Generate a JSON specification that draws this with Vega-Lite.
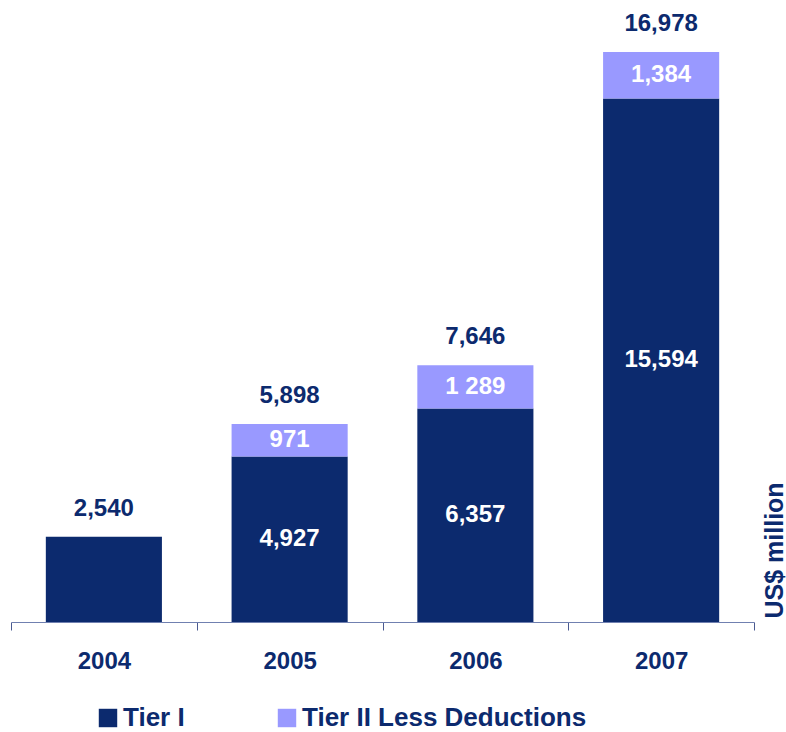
{
  "$schema": "https://vega.github.io/schema/vega-lite/v6.json",
  "width": 743,
  "height": 622,
  "autosize": "none",
  "padding": {"left": 11, "top": 0, "right": 32, "bottom": 110},
  "config": {"view": {"stroke": null}, "font": "Liberation Sans"},
  "datasets": {
    "segments": [
      {"year": "2004", "series": "Tier I", "value": 2540, "label": ""},
      {"year": "2005", "series": "Tier I", "value": 4927, "label": "4,927"},
      {"year": "2005", "series": "Tier II Less Deductions", "value": 971, "label": "971"},
      {"year": "2006", "series": "Tier I", "value": 6357, "label": "6,357"},
      {"year": "2006", "series": "Tier II Less Deductions", "value": 1289, "label": "1 289"},
      {"year": "2007", "series": "Tier I", "value": 15594, "label": "15,594"},
      {"year": "2007", "series": "Tier II Less Deductions", "value": 1384, "label": "1,384"}
    ],
    "totals": [
      {"year": "2004", "total": 2540, "label": "2,540"},
      {"year": "2005", "total": 5898, "label": "5,898"},
      {"year": "2006", "total": 7646, "label": "7,646"},
      {"year": "2007", "total": 16978, "label": "16,978"}
    ]
  },
  "encoding": {
    "x": {
      "field": "year",
      "type": "ordinal",
      "scale": {"paddingInner": 0, "paddingOuter": 0},
      "axis": {
        "title": null,
        "tickBand": "extent",
        "zindex": 1,
        "domainColor": "#7080b0",
        "domainWidth": 1,
        "tickColor": "#4a5a90",
        "tickWidth": 1,
        "tickSize": 8,
        "labelAngle": 0,
        "labelFont": "Liberation Sans",
        "labelFontSize": 24,
        "labelFontWeight": "bold",
        "labelColor": "#0c2a6e",
        "labelPadding": 19
      }
    }
  },
  "layer": [
    {
      "data": {"name": "segments"},
      "mark": {"type": "bar", "width": {"band": 0.625}},
      "encoding": {
        "y": {
          "field": "value",
          "type": "quantitative",
          "stack": "zero",
          "scale": {"domain": [0, 18530], "nice": false, "zero": true},
          "axis": {
            "orient": "right",
            "domain": false,
            "ticks": false,
            "labels": false,
            "grid": false,
            "title": "US$ million",
            "titleX": 20,
            "titleY": 618,
            "titleAngle": 270,
            "titleAlign": "left",
            "titleBaseline": "middle",
            "titleFont": "Liberation Sans",
            "titleFontSize": 25,
            "titleFontWeight": "bold",
            "titleColor": "#0c2a6e"
          }
        },
        "order": {"field": "series", "sort": "ascending"},
        "color": {
          "field": "series",
          "type": "nominal",
          "scale": {"domain": ["Tier I", "Tier II Less Deductions"], "range": ["#0c2a6e", "#9999ff"]},
          "legend": {
            "orient": "none",
            "legendX": 84,
            "legendY": 705,
            "direction": "horizontal",
            "title": null,
            "padding": 0,
            "symbolType": "square",
            "symbolSize": 340,
            "symbolStrokeWidth": 0,
            "symbolOpacity": 1,
            "labelFont": "Liberation Sans",
            "labelFontSize": 26,
            "labelFontWeight": "bold",
            "labelColor": "#0c2a6e",
            "labelOffset": 2,
            "labelLimit": 500,
            "columnPadding": 89
          }
        }
      }
    },
    {
      "data": {"name": "segments"},
      "transform": [
        {"stack": "value", "groupby": ["year"], "sort": [{"field": "series", "order": "ascending"}], "as": ["v0", "v1"]},
        {"fold": ["v0", "v1"], "as": ["edge", "pos"]},
        {"aggregate": [{"op": "mean", "field": "pos", "as": "mid"}], "groupby": ["year", "series", "label"]}
      ],
      "mark": {"type": "text", "baseline": "middle", "align": "center", "font": "Liberation Sans", "fontSize": 24, "fontWeight": "bold", "color": "white"},
      "encoding": {
        "y": {"field": "mid", "type": "quantitative", "scale": {"domain": [0, 18530], "nice": false, "zero": true}, "title": "US$ million"},
        "text": {"field": "label"}
      }
    },
    {
      "data": {"name": "totals"},
      "mark": {"type": "text", "baseline": "middle", "align": "center", "dy": -28, "font": "Liberation Sans", "fontSize": 24, "fontWeight": "bold", "color": "#0c2a6e"},
      "encoding": {
        "y": {"field": "total", "type": "quantitative", "scale": {"domain": [0, 18530], "nice": false, "zero": true}, "title": "US$ million"},
        "text": {"field": "label"}
      }
    }
  ]
}
